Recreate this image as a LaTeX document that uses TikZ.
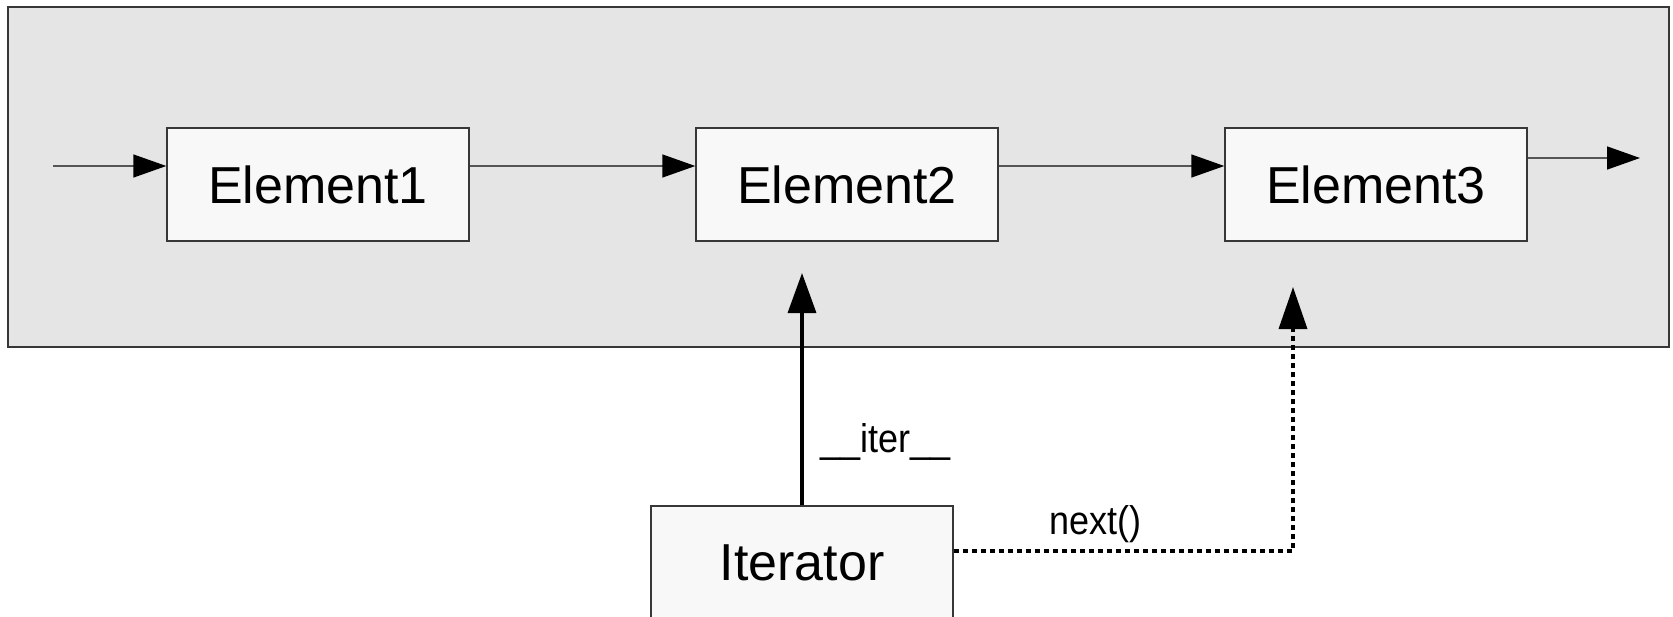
\documentclass[tikz,border=0pt]{standalone}
\usepackage{fontspec}
\setmainfont{Liberation Sans}
\usetikzlibrary{arrows.meta}
\definecolor{bggray}{RGB}{229,229,229}
\definecolor{boxfill}{RGB}{247,248,247}
\definecolor{linegray}{RGB}{85,85,85}
\definecolor{framegray}{RGB}{55,55,55}
\newcommand{\narrowlbl}[1]{\scalebox{0.9}[1]{#1}}
\begin{document}
\begin{tikzpicture}[x=1pt,y=-1pt,
  container/.style={draw=framegray, line width=1.4pt, fill=bggray, minimum width=1661pt, minimum height=340pt, inner sep=0pt},
  elem/.style={draw=framegray, line width=1.4pt, fill=boxfill, minimum width=302pt, minimum height=113pt, inner sep=0pt, font=\fontsize{52}{60}\selectfont},
  flow/.style={draw=linegray, line width=1.4pt, -{Triangle[length=33pt,width=23pt,fill=black,color=black]}},
  callarrow/.style={draw=black, line width=3.5pt, -{Triangle[length=40pt,width=28pt]}},
  nextarrow/.style={draw=black, line width=3.5pt, dash pattern=on 5pt off 4pt, -{Triangle[length=42pt,width=28pt]}},
  lbl/.style={font=\fontsize{40}{44}\selectfont, inner sep=0pt, anchor=base west}]
\useasboundingbox (0,0) rectangle (1673,616);
\clip (0,0) rectangle (1673,616);
\node[container] (frame) at (838.5,177) {};
\node[elem] (e1) at (318,184.5) {Element1};
\node[elem] (e2) at (847,184.5) {Element2};
\node[elem] (e3) at (1376,184.5) {Element3};
\node[elem] (it) at (802,562.5) {Iterator};
\coordinate (in) at (53,166);
\coordinate (out) at (1640,158);
\coordinate (itertip) at (802,273);
\coordinate (nexttip) at (1293,287);
\draw[flow] (in) -- ([yshift=18.5pt]e1.west);
\draw[flow] ([yshift=18.5pt]e1.east) -- ([yshift=18.5pt]e2.west);
\draw[flow] ([yshift=18.5pt]e2.east) -- ([yshift=18.5pt]e3.west);
\draw[flow] ([yshift=26.5pt]e3.east) -- (out);
\draw[callarrow] (it.north) -- (itertip);
\draw[nextarrow] ([yshift=11.5pt]it.east) -| (nexttip);
\node[lbl] (iterlbl) at (820,452) {\narrowlbl{\_\_iter\_\_}};
\node[lbl] (nextlbl) at (1049,534) {\narrowlbl{next()}};
\end{tikzpicture}
\end{document}
